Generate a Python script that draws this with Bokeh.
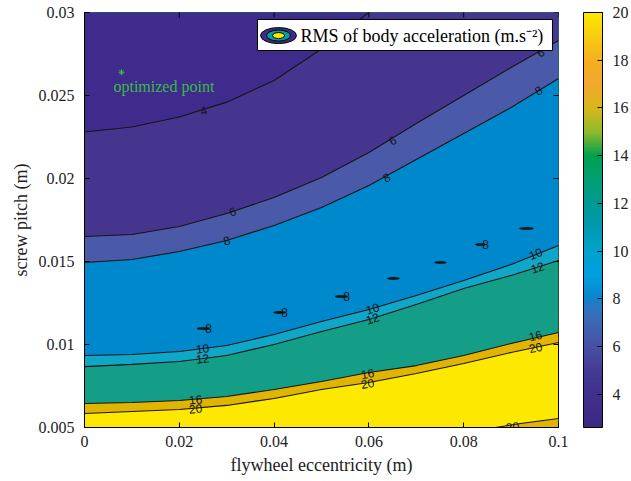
import numpy as np
from bokeh.plotting import figure
from bokeh.models import (Range1d, FixedTicker, ColorBar,
                          LinearColorMapper, ColumnDataSource)
from bokeh.core.properties import value
from bokeh.embed import file_html
from bokeh.resources import INLINE

# ---------------- data ----------------
x_ticks = [0, 0.02, 0.04, 0.06, 0.08, 0.1]
x_tick_labels = ["0", "0.02", "0.04", "0.06", "0.08", "0.1"]
y_ticks = [0.005, 0.01, 0.015, 0.02, 0.025, 0.03]
y_tick_labels = ["0.005", "0.01", "0.015", "0.02", "0.025", "0.03"]
cb_ticks = [4, 6, 8, 10, 12, 14, 16, 18, 20]

contour_x = [0.0, 0.01, 0.02, 0.03, 0.04, 0.05, 0.06, 0.07, 0.08, 0.09, 0.1]
c4_x = [0.0, 0.01, 0.02, 0.03, 0.04, 0.05, 0.06]
c4 = [0.0228, 0.0231, 0.0237, 0.0246, 0.0259, 0.0278, 0.0300]
c6 = [0.01651, 0.01663, 0.01711, 0.01789, 0.01886, 0.02006, 0.02157, 0.02331, 0.02500, 0.02669, 0.02831]
c8 = [0.01494, 0.01512, 0.01560, 0.01627, 0.01717, 0.01825, 0.01958, 0.02114, 0.02271, 0.02428, 0.02602]
c10 = [0.00934, 0.00940, 0.00958, 0.00994, 0.01060, 0.01139, 0.01211, 0.01295, 0.01386, 0.01482, 0.01596]
c12 = [0.00867, 0.00880, 0.00898, 0.00934, 0.01000, 0.01078, 0.01151, 0.01241, 0.01337, 0.01416, 0.01506]
c16 = [0.00645, 0.00651, 0.00663, 0.00687, 0.00729, 0.00777, 0.00831, 0.00873, 0.00934, 0.01006, 0.01072]
c20 = [0.00584, 0.00596, 0.00608, 0.00633, 0.00675, 0.00729, 0.00771, 0.00825, 0.00886, 0.00952, 0.01012]
c20b_x = [0.0867, 0.092, 0.1]
c20b = [0.0050, 0.00524, 0.00554]

# small closed 8-contours (islands)
island_x = [0.02511, 0.04114, 0.05422, 0.06519, 0.07511, 0.08354, 0.09325]
island_y = [0.01096, 0.01193, 0.01289, 0.01398, 0.01494, 0.01602, 0.01699]
island_w = [0.00274, 0.00253, 0.00274, 0.00253, 0.00253, 0.00211, 0.00295]
island_label = ["8", "8", "8", "", "", "8", ""]

# contour labels
lab_text = ["4", "6", "6", "6", "8", "8", "8", "10", "10", "10", "12", "12", "12",
            "16", "16", "16", "20", "20", "20", "20"]
lab_x = [0.0251, 0.03122, 0.06498, 0.0962, 0.02996, 0.06371, 0.09578,
         0.02489, 0.06076, 0.09515, 0.02489, 0.06076, 0.09557,
         0.02342, 0.0597, 0.09515, 0.02342, 0.0597, 0.09515, 0.0903]
lab_y = [0.02410, 0.01801, 0.02229, 0.02759, 0.01627, 0.02006, 0.02530,
         0.00976, 0.01217, 0.01548, 0.00916, 0.01157, 0.01464,
         0.00669, 0.00825, 0.01054, 0.00614, 0.00765, 0.00982, 0.00506]
lab_angle = [18, 18, 31, 31, 17, 28, 32, 7, 16, 22, 7, 17, 17, 5, 10, 14, 5, 10, 12, 8]

opt_x = [0.0078]
opt_y = [0.0264]

z_min, z_max = 2.6, 20.0

# ---------------- styles ----------------
col_lt4 = "#3f2b8b"
col_4_6 = "#46358f"
col_6_8 = "#4a5aa8"
col_8_10 = "#0088cc"
col_10_12 = "#10a6c8"
col_12_16 = "#149e88"
col_16_20 = "#e0b400"
col_gt20 = "#fce800"
line_col = "#151515"
serif = "Liberation Serif"
green = "#3cb84c"

anchors = [(2.6, "#3b2883"), (4, "#41308c"), (5, "#453b96"), (6, "#4751a4"),
           (7, "#3d68b4"), (7.7, "#2a78c2"), (8, "#0c84cc"), (9, "#00a0e0"),
           (10, "#00a2cc"), (11, "#0099b0"), (12, "#009a92"), (13, "#009e72"),
           (14, "#00a050"), (15, "#90ba2c"), (16, "#d6b81a"), (17, "#f2a82c"),
           (18, "#f6ae22"), (19, "#f8cc10"), (20, "#fde700")]


def h2rgb(h):
    return np.array([int(h[i:i + 2], 16) for i in (1, 3, 5)], dtype=float)


av = np.array([a[0] for a in anchors])
ac = np.array([h2rgb(a[1]) for a in anchors])
vals = np.linspace(z_min, z_max, 256)
palette = []
for v in vals:
    rgb = [np.interp(v, av, ac[:, k]) for k in range(3)]
    palette.append("#%02x%02x%02x" % tuple(int(round(c)) for c in rgb))

X_LEFT, X_RIGHT = x_ticks[0], x_ticks[-1]
Y_BOT, Y_TOP = y_ticks[0], y_ticks[-1]

p = figure(width=631, height=481, output_backend="svg", toolbar_location=None,
           x_range=Range1d(X_LEFT, X_RIGHT), y_range=Range1d(Y_BOT, Y_TOP),
           min_border_left=84, min_border_right=73, min_border_top=12,
           min_border_bottom=54)
p.background_fill_color = col_gt20
p.border_fill_color = "white"
p.outline_line_color = "black"
p.grid.visible = False

# filled bands (painted from highest level to lowest)
src = ColumnDataSource(dict(x=contour_x, c6=c6, c8=c8, c10=c10, c12=c12, c16=c16, c20=c20))
for key, col in [("c20", col_16_20), ("c16", col_12_16), ("c12", col_10_12),
                 ("c10", col_8_10), ("c8", col_6_8), ("c6", col_4_6)]:
    p.varea(x="x", y1=key, y2=Y_TOP, source=src, fill_color=col)
p.varea(x=c4_x, y1=c4, y2=Y_TOP, fill_color=col_lt4)
p.varea(x=c20b_x, y1=Y_BOT, y2=c20b, fill_color=col_16_20)

# contour lines
for key in ["c6", "c8", "c10", "c12", "c16", "c20"]:
    p.line(x="x", y=key, source=src, line_color=line_col, line_width=1.1)
p.line(x=c4_x, y=c4, line_color=line_col, line_width=1.1)
p.line(x=c20b_x, y=c20b, line_color=line_col, line_width=1.1)

# islands
p.ellipse(x=island_x, y=island_y, width=island_w, height=2.2, height_units="screen",
          fill_color=line_col, line_color=line_col, line_width=0.6)
il_x = [x for x, t in zip(island_x, island_label) if t]
il_y = [y for y, t in zip(island_y, island_label) if t]
il_t = [t for t in island_label if t]
p.text(x=il_x, y=il_y, text=il_t, x_offset=5,
       text_font=value("Liberation Sans"), text_font_size="12px",
       text_align="center", text_baseline="middle", text_color=line_col)

# contour labels
p.text(x=lab_x, y=lab_y, text=lab_text, angle=list(np.deg2rad(lab_angle)),
       text_font=value("Liberation Sans"), text_font_size="12px",
       text_align="center", text_baseline="middle", text_color=line_col)

# optimized point
p.scatter(x=opt_x, y=opt_y, marker="asterisk", size=6, line_color=green, line_width=1)
p.text(x=opt_x, y=opt_y, text=["optimized point"], x_offset=-8, y_offset=14,
       text_font=value(serif), text_font_size="16px", text_color=green,
       text_align="left", text_baseline="middle")

# legend box (manual)
p.quad(left=[0.0365], right=[0.09873], top=[0.02958], bottom=[0.02771],
       fill_color="white", line_color="black", line_width=1)
for w, h, c in [(36, 16, col_lt4), (24, 11, "#00a0a0"), (12, 6, "#fce800")]:
    p.ellipse(x=[0.04093], y=[0.02861], width=w, height=h, width_units="screen",
              height_units="screen", fill_color=c, line_color="black", line_width=1)
p.text(x=[0.04557], y=[0.02861], text=["RMS of body acceleration (m.s\u207b\u00b2)"],
       text_font=value(serif), text_font_size="18px", text_color="black",
       text_align="left", text_baseline="middle")

# inner ticks on the top and right edges (half of each dash is clipped by the frame)
p.scatter(x=x_ticks, y=[Y_TOP] * len(x_ticks), marker="dash", angle=np.pi / 2,
          size=10, line_color="black", line_width=1)
p.scatter(x=[X_RIGHT] * len(y_ticks), y=y_ticks, marker="dash",
          size=10, line_color="black", line_width=1)

# axes
for ax in (p.xaxis[0], p.yaxis[0]):
    ax.major_tick_in = 5
    ax.major_tick_out = 0
    ax.minor_tick_line_color = None
    ax.axis_line_color = "black"
    ax.major_label_text_font = serif
    ax.major_label_text_font_size = "16px"
    ax.major_label_text_color = "#222222"
    ax.axis_label_text_font = serif
    ax.axis_label_text_font_size = "18px"
    ax.axis_label_text_font_style = "normal"
    ax.axis_label_text_color = "#222222"

p.xaxis[0].ticker = FixedTicker(ticks=x_ticks)
p.xaxis[0].major_label_overrides = dict(zip(x_ticks, x_tick_labels))
p.xaxis[0].axis_label = "flywheel eccentricity (m)"
p.xaxis[0].major_label_standoff = 8
p.xaxis[0].axis_label_standoff = 5
p.yaxis[0].ticker = FixedTicker(ticks=y_ticks)
p.yaxis[0].major_label_overrides = dict(zip(y_ticks, y_tick_labels))
p.yaxis[0].axis_label = "screw pitch (m)"
p.yaxis[0].major_label_standoff = 10
p.yaxis[0].axis_label_standoff = 5

mapper = LinearColorMapper(palette=palette, low=z_min, high=z_max)
cb = ColorBar(color_mapper=mapper, ticker=FixedTicker(ticks=cb_ticks),
              location=(499, 0), width=19, height=415, padding=0,
              bar_line_color="black", major_tick_line_color="black",
              major_tick_in=5, major_tick_out=0, minor_tick_line_color=None,
              label_standoff=10, major_label_text_font=serif,
              major_label_text_font_size="16px", major_label_text_color="#222222",
              background_fill_alpha=0, border_line_color=None)
p.add_layout(cb, "center")

open("out.html", "w").write(file_html(p, INLINE))
